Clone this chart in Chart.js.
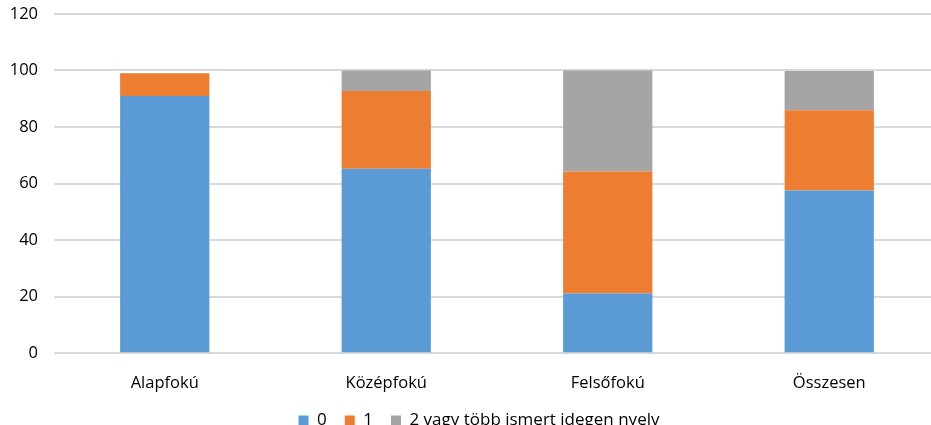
<!DOCTYPE html>
<html>
<head>
<meta charset="utf-8">
<script src="https://cdn.jsdelivr.net/npm/chart.js@4/dist/chart.umd.min.js"></script>
<style>
    html, body { margin: 0; padding: 0; background: #fff; overflow: hidden; }
    #wrap { width: 940px; height: 451px; margin-top: -12px; position: relative; }
</style>
</head>
<body>
<div id="wrap"><canvas id="chart"></canvas></div>
<script>
// Education level categories
const categories = ['Alapfokú', 'Középfokú', 'Felsőfokú', 'Összesen'];

// Share (%) by number of known foreign languages
const series0 = [91, 65.2, 21.1, 57.5];
const series1 = [8, 27.5, 43.2, 28.4];
const series2 = [0, 7.3, 35.7, 13.9];

const seriesNames = ['0', '1', '2 vagy több ismert idegen nyelv'];
const yTicks = [0, 20, 40, 60, 80, 100, 120];

const fontFamily = '"Open Sans", "Noto Sans", sans-serif';
const font = { family: fontFamily, size: 16.5 };

// nudge the legend a bit to the right, like in the original
const legendShift = {
    id: 'legendShift',
    afterLayout(chart) {
        if (chart.legend) {
            chart.legend.left += 9;
            chart.legend.right += 9;
        }
    }
};

new Chart(document.getElementById('chart'), {
    type: 'bar',
    data: {
        labels: categories,
        datasets: [
            { label: seriesNames[0], data: series0, backgroundColor: '#5b9bd5' },
            { label: seriesNames[1], data: series1, backgroundColor: '#ed7d31' },
            { label: seriesNames[2], data: series2, backgroundColor: '#a5a5a5' }
        ]
    },
    options: {
        responsive: true,
        maintainAspectRatio: false,
        animation: false,
        datasets: {
            bar: { categoryPercentage: 1, barPercentage: 0.403 }
        },
        layout: { padding: { top: 2, left: 0, right: 0, bottom: 0 } },
        plugins: {
            legend: {
                position: 'bottom',
                labels: {
                    color: '#000',
                    font: { family: fontFamily, size: 17 },
                    boxWidth: 10,
                    boxHeight: 10,
                    padding: 18
                }
            },
            tooltip: { enabled: false }
        },
        scales: {
            x: {
                stacked: true,
                grid: { display: false },
                border: { display: false },
                ticks: { color: '#000', font: font, padding: 12 },
                afterFit: (axis) => { axis.height -= 11; }
            },
            y: {
                stacked: true,
                min: 0,
                max: 120,
                afterBuildTicks: (axis) => { axis.ticks = yTicks.map(v => ({ value: v })); },
                afterFit: (axis) => { axis.width = 54; },
                grid: { color: '#d9d9d9', lineWidth: 2, drawTicks: false },
                border: { display: false },
                ticks: { color: '#000', font: font, padding: 16 }
            }
        }
    },
    plugins: [legendShift]
});
</script>
</body>
</html>
